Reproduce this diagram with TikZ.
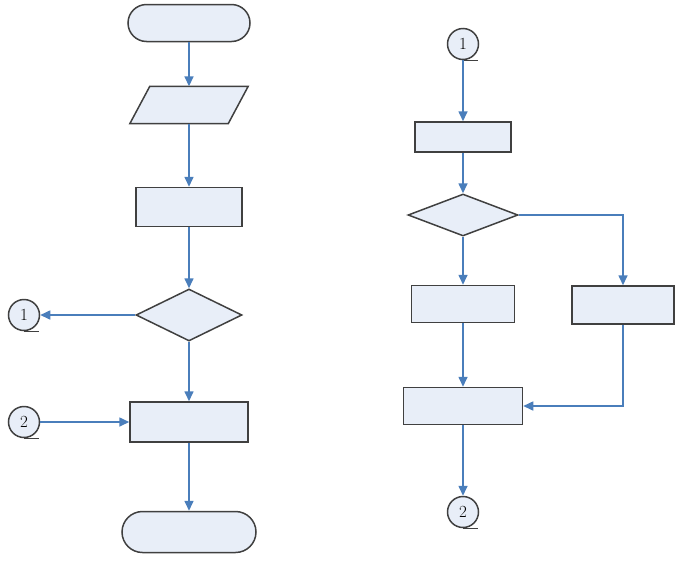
\documentclass[tikz,border=0pt]{standalone}
\usetikzlibrary{arrows.meta,shapes.geometric,shapes.misc,calc}
\definecolor{boxfill}{RGB}{232,238,248}
\definecolor{boxline}{RGB}{64,64,64}
\definecolor{flowblue}{RGB}{74,126,187}
\tikzset{
    shape base/.style={draw=boxline, fill=boxfill, line width=1.5pt, inner sep=0pt},
    terminal/.style={shape base, rounded rectangle, minimum height=37pt},
    procbox/.style={shape base, rectangle},
    decision/.style={shape base, diamond},
    connector/.style={shape base, circle, minimum size=31pt, font=\fontsize{17}{17}\selectfont},
    flow/.style={draw=flowblue, line width=1.6pt, -{Triangle[width=9pt,length=10pt]}},
}
\begin{document}
\begin{tikzpicture}[x=1pt, y=-1pt]
            \useasboundingbox (0,0) rectangle (687,563);
            % left column
            \node[terminal, minimum width=122pt] (start) at (189,23) {};
            \node[inner sep=0pt, minimum width=98pt, minimum height=37pt] (input) at (189,105) {};
            \draw[shape base] ($(input.north west)+(10,0)$) -- ($(input.north east)+(10,0)$)
                -- ($(input.south east)+(-10,0)$) -- ($(input.south west)+(-10,0)$) -- cycle;
            \node[procbox, minimum width=106pt, minimum height=39pt] (calc) at (189,207) {};
            \node[decision, minimum width=106pt, minimum height=52pt] (test) at (189,315) {};
            \node[connector] (outA) at (24,315) {1};
            \node[procbox, minimum width=118pt, minimum height=40pt] (merge) at (189,422) {};
            \node[connector] (inB) at (24,422) {2};
            \node[terminal, minimum width=134pt, minimum height=41pt] (stop) at (189,532) {};
            % right column
            \node[connector] (inA) at (463,44) {1};
            \node[procbox, minimum width=96pt, minimum height=30pt] (stepR) at (463,137) {};
            \node[decision, minimum width=110pt, minimum height=42pt] (testR) at (463,215) {};
            \node[procbox, minimum width=103pt, minimum height=37pt] (yesR) at (463,304) {};
            \node[procbox, minimum width=102pt, minimum height=38pt] (noR) at (623,305) {};
            \node[procbox, minimum width=119pt, minimum height=37pt] (joinR) at (463,406) {};
            \node[connector] (outB) at (463,512) {2};
            % connector tails
            \foreach \c in {outA, inB, inA, outB}
                \draw[boxline, line width=1.5pt] (\c.south) -- ++(15,0);
            % arrows left
            \draw[flow] (start) -- (input);
            \draw[flow] (input) -- (calc);
            \draw[flow] (calc) -- (test);
            \draw[flow] (test.west) -- (outA);
            \draw[flow] (test) -- (merge);
            \draw[flow] (inB) -- (merge);
            \draw[flow] (merge) -- (stop);
            % arrows right
            \draw[flow] (inA) -- (stepR);
            \draw[flow] (stepR) -- (testR);
            \draw[flow] (testR) -- (yesR);
            \draw[flow] (testR.east) -| (noR);
            \draw[flow] (yesR) -- (joinR);
            \draw[flow] (noR) |- (joinR);
            \draw[flow] (joinR) -- (outB);
        \end{tikzpicture}
\end{document}
